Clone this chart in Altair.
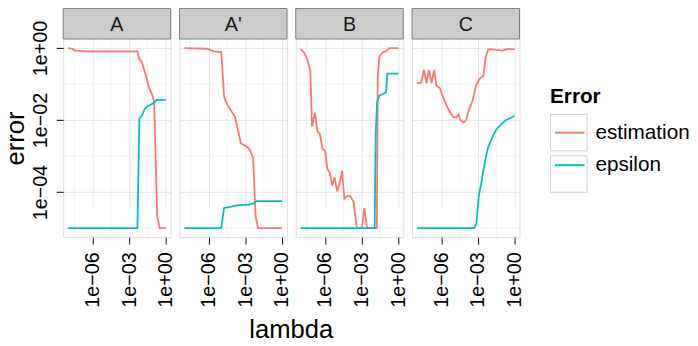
import math
import altair as alt
import pandas as pd

# ---------------- data (log10 values) ----------------
panels = ["A", "A'", "B", "C"]
series = ["estimation", "epsilon"]
colors = ["#F8766D", "#00BFC4"]
legend_box_ids = ["box1", "box2"]

A_est_lx = [-8, -7.68, -7.4, -6.6, -2.32, -2.16, -1.97, -1.65, -1.38, -1.08, -0.95, -0.70, -0.49, 0]
A_est_ly = [0, -0.02, -0.07, -0.09, -0.09, -0.32, -0.38, -0.73, -1.09, -1.32, -1.5, -4.68, -5.0, -5.0]
A_eps_lx = [-8, -2.32, -2.16, -1.97, -1.75, -1.48, -1.16, -0.89, -0.76, 0]
A_eps_ly = [-5, -5, -1.95, -1.89, -1.71, -1.61, -1.56, -1.5, -1.44, -1.44]

Ap_est_lx = [-8, -6.13, -5.6, -4.98, -4.74, -4.52, -4.12, -3.85, -3.37, -2.99, -2.64, -2.37, -2.16, -1.97, 0]
Ap_est_ly = [0, -0.02, -0.09, -0.12, -1.36, -1.55, -1.77, -1.91, -2.65, -2.71, -2.82, -3.05, -4.68, -5.0, -5.0]
Ap_eps_lx = [-8, -4.98, -4.74, -4.25, -3.58, -2.72, -2.37, -2.1, 0]
Ap_eps_ly = [-5, -5, -4.44, -4.41, -4.36, -4.35, -4.32, -4.25, -4.25]

B_est_lx = [-8, -7.69, -7.42, -7.21, -7.07, -6.83, -6.62, -6.43, -6.21, -6.0, -5.81, -5.62,
            -5.41, -5.22, -5.01, -4.79, -4.61, -4.42, -4.2, -3.94, -3.67, -3.4, -2.98, -2.78,
            -2.57, -1.76, -1.68, -1.54, -1.28, -1.01, -0.74, 0]
B_est_ly = [-0.03, -0.14, -0.36, -0.64, -2.18, -1.8, -2.32, -2.38, -2.8, -2.85, -3.36, -3.45,
            -3.82, -3.59, -3.98, -3.73, -3.41, -4.18, -4.11, -4.11, -4.27, -5.0, -5.0, -4.44,
            -5.0, -5.0, -0.73, -0.23, -0.12, -0.09, 0, 0]
B_eps_lx = [-8, -1.94, -1.85, -1.74, -1.54, -1.01, -0.9, 0]
B_eps_ly = [-5, -5, -2.33, -1.5, -1.32, -1.23, -0.71, -0.71]

C_est_lx = [-8, -7.67, -7.43, -7.21, -7.02, -6.8, -6.59, -6.4, -6.13, -5.87, -5.46, -5.06,
            -4.79, -4.6, -4.44, -4.17, -3.98, -3.71, -3.44, -3.17, -2.9, -2.56, -2.37, -2.18,
            -1.97, -1.48, -1.03, -0.62, 0]
C_est_ly = [-0.97, -0.97, -0.61, -0.97, -0.61, -0.97, -0.61, -1.05, -1.11, -1.36, -1.68, -1.91,
            -1.93, -1.84, -2.0, -2.07, -2.0, -1.68, -1.45, -1.05, -0.86, -0.77, -0.27, -0.05,
            -0.03, -0.05, -0.07, -0.03, -0.03]
C_eps_lx = [-8, -3.31, -3.12, -2.93, -2.72, -2.45, -2.18, -1.86, -1.51, -1.1, -0.7, -0.24, 0]
C_eps_ly = [-5, -5, -4.86, -4.09, -3.73, -3.18, -2.77, -2.5, -2.27, -2.11, -2.0, -1.93, -1.88]

x_ticks = [1e-6, 1e-3, 1e0]
x_tick_labels = ["1e\u221206", "1e\u221203", "1e+00"]
y_ticks = [1e-4, 1e-2, 1e0]
y_tick_labels = ["1e\u221204", "1e\u221202", "1e+00"]
x_minor = [10 ** -7.5, 10 ** -4.5, 10 ** -1.5]
y_minor = [1e-1, 1e-3, 1e-5]
x_domain = [10 ** -8.4, 10 ** 0.4]
y_domain = [10 ** -5.25, 10 ** 0.25]

series_data = {
    "A": [(A_est_lx, A_est_ly), (A_eps_lx, A_eps_ly)],
    "A'": [(Ap_est_lx, Ap_est_ly), (Ap_eps_lx, Ap_eps_ly)],
    "B": [(B_est_lx, B_est_ly), (B_eps_lx, B_eps_ly)],
    "C": [(C_est_lx, C_est_ly), (C_eps_lx, C_eps_ly)],
}

rows = []
for p in panels:
    for s, (lx, ly) in zip(series, series_data[p]):
        for k, (a, b) in enumerate(zip(lx, ly)):
            rows.append({"panel": p, "series": s, "lambda": 10 ** a, "error": 10 ** b, "k": k})
df = pd.DataFrame(rows)

# ---------------- styling ----------------
FONT = "Liberation Sans"
W, H, STRIP_H, GAP = 109, 201, 31, 9
TOTAL_H = H + STRIP_H
MAJOR = "#E5E5E5"
MINOR = "#F3F3F3"
LEG_X, LEG_Y = 494, 79  # legend offsets from the layout origin


def label_expr(vals, labs):
    expr = "''"
    for v, l in zip(vals, labs):
        expr = f"abs(log(datum.value)/LN10 - ({math.log10(v)})) < 0.5 ? '{l}' : " + expr
    return expr


xscale = alt.Scale(type="log", domain=x_domain, nice=False)
yscale = alt.Scale(type="log", domain=y_domain, nice=False, range=[TOTAL_H, STRIP_H])
cscale = alt.Scale(domain=series, range=colors)

xaxis = alt.Axis(values=x_ticks, labelExpr=label_expr(x_ticks, x_tick_labels), labelAngle=270,
                 labelFontSize=20, labelFont=FONT, labelColor="#000000", tickSize=7,
                 tickColor="#000000", labelPadding=8, title=None, grid=True, gridColor=MAJOR,
                 domain=False)
yaxis_first = alt.Axis(values=y_ticks, labelExpr=label_expr(y_ticks, y_tick_labels), labelAngle=270,
                       labelFontSize=20, labelFont=FONT, labelColor="#000000", tickSize=7,
                       tickColor="#000000", labelPadding=6, title="error", titleFontSize=26,
                       titleFont=FONT, titleFontWeight="normal", titleColor="#000000",
                       titlePadding=2, grid=True, gridColor=MAJOR, domain=False)
yaxis_other = alt.Axis(values=y_ticks, labels=False, ticks=False, title=None, grid=True,
                       gridColor=MAJOR, domain=False)

line_legend = alt.Legend(orient="none", legendX=LEG_X, legendY=LEG_Y,
                         title="Error", titleFontSize=21, titleFont=FONT, titleFontWeight="bold",
                         titleColor="#000000", titlePadding=10, labelFontSize=21, labelFont=FONT,
                         labelColor="#000000", symbolType="stroke", symbolSize=900,
                         symbolStrokeWidth=2, rowPadding=7, labelOffset=10, symbolOffset=4,
                         padding=0)
box_legend = alt.Legend(orient="none", legendX=LEG_X, legendY=LEG_Y + 28,
                        title=None, symbolType="square", symbolSize=37 * 37,
                        symbolStrokeColor="#CCCCCC", symbolFillColor="transparent",
                        symbolStrokeWidth=1, symbolOpacity=1, labelOpacity=0, labelFontSize=1,
                        rowPadding=0, padding=0)


def panel_chart(i, p):
    yaxis = yaxis_first if i == 0 else yaxis_other
    d = df[df.panel == p]
    vminor = alt.Chart(pd.DataFrame({"v": x_minor})).mark_rule(color=MINOR, strokeWidth=1).encode(
        x=alt.X("v:Q", scale=xscale, axis=xaxis))
    hminor = alt.Chart(pd.DataFrame({"v": y_minor})).mark_rule(color=MINOR, strokeWidth=1).encode(
        y=alt.Y("v:Q", scale=yscale, axis=yaxis))
    layers = [vminor, hminor]
    for s in series:
        layers.append(
            alt.Chart(d[d.series == s]).mark_line(strokeWidth=1.8).encode(
                x=alt.X("lambda:Q", scale=xscale, axis=xaxis),
                y=alt.Y("error:Q", scale=yscale, axis=yaxis),
                color=alt.Color("series:N", scale=cscale, legend=line_legend),
                order="k:Q",
            )
        )
    sd = pd.DataFrame({"panel": [p]})
    layers.append(
        alt.Chart(sd).mark_rect(fill="#CCCCCC", stroke="#7F7F7F", strokeWidth=1).encode(
            x=alt.value(0), x2=alt.value(W), y=alt.value(0), y2=alt.value(STRIP_H))
    )
    layers.append(
        alt.Chart(sd).mark_text(font=FONT, fontSize=20, color="#1A1A1A", baseline="middle").encode(
            text="panel:N", x=alt.value(W / 2), y=alt.value(17))
    )
    if i == 0:
        layers.append(
            alt.Chart(pd.DataFrame({"key": legend_box_ids})).transform_filter("false")
            .mark_point(shape="square", filled=False, color="#CCCCCC", opacity=1)
            .encode(shape=alt.Shape("key:N",
                                    scale=alt.Scale(domain=legend_box_ids, range=["square", "square"]),
                                    legend=box_legend))
        )
    return alt.layer(*layers).properties(width=W, height=TOTAL_H)


PANELS_W = len(panels) * W + (len(panels) - 1) * GAP

chart = alt.hconcat(*[panel_chart(i, p) for i, p in enumerate(panels)], spacing=GAP, bounds="flush").properties(
    title=alt.TitleParams("lambda", orient="bottom", anchor="middle", frame="group", dx=PANELS_W / 2,
                          fontSize=26, font=FONT, fontWeight="normal", color="#000000", offset=10),
    padding={"left": -6, "top": -3, "right": 0, "bottom": 0},
).configure_view(stroke="#7F7F7F", strokeWidth=1).configure(font=FONT)

chart.save("out.html", embed_options={"renderer": "svg", "actions": False})
